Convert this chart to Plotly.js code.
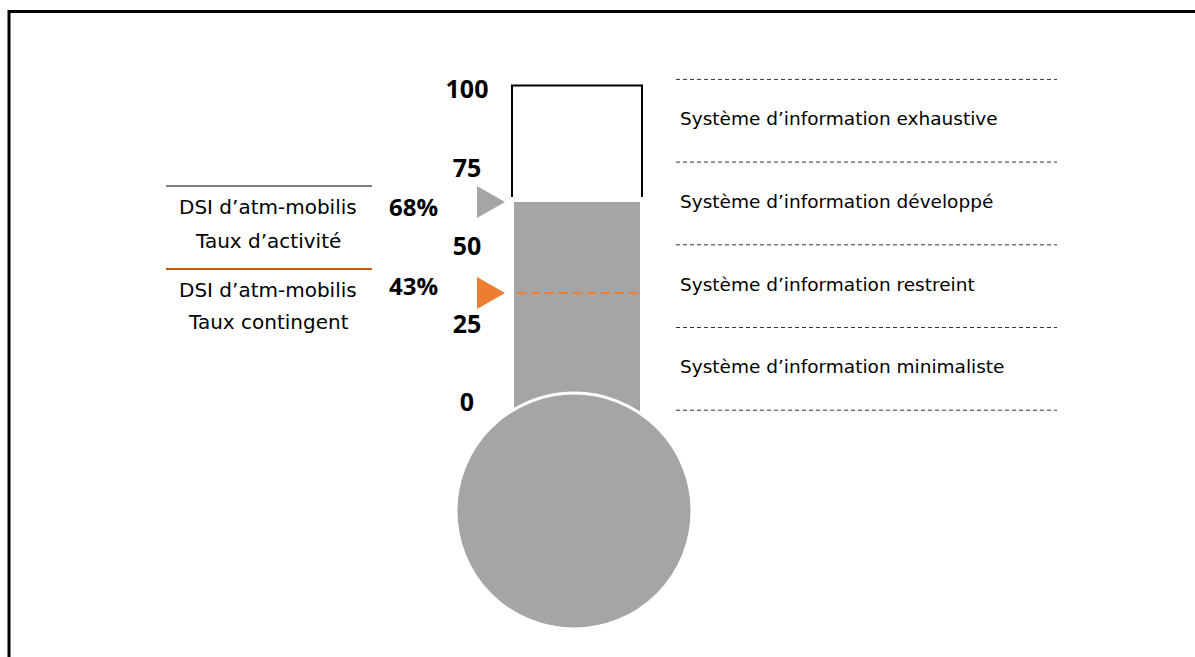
<!DOCTYPE html>
<html>
<head>
<meta charset="utf-8">
<script src="https://cdn.plot.ly/plotly-3.0.1.min.js"></script>
<style>
  html, body { margin: 0; padding: 0; background: #ffffff; }
  #chart { width: 1195px; height: 657px; }
</style>
</head>
<body>
<div id="chart"></div>
<script>
// Indicator values (percent)
const indicatorNames = ['Taux d’activité', 'Taux contingent'];
const indicatorValues = [68, 43];
const indicatorPrefix = 'DSI d’atm-mobilis';

// Thermometer scale
const scaleTicks = [0, 25, 50, 75, 100];
const scaleTickLabels = ['0', '25', '50', '75', '100'];
const scaleMax = 100;

// Maturity bands (bottom to top)
const bandBounds = [0, 25, 50, 75, 100];
const bandLabels = [
  'Système d’information minimaliste',
  'Système d’information restreint',
  'Système d’information développé',
  'Système d’information exhaustive'
];

// ---- layout helpers ----
const W = 1195, H = 657;
const py = p => 1 - p / H;                       // pixel row -> paper fraction
const axisRange = (pxZero, pxPerUnit) => [(pxZero - H) / pxPerUnit, pxZero / pxPerUnit];

const GRAY = '#A5A5A5';
const ORANGE = '#ED7D31';
const ORANGE_DARK = '#C55A11';
const TXT_FONT = '"DejaVu Sans", "Noto Sans", sans-serif';
const NUM_FONT = '"Open Sans", "Noto Sans", sans-serif';

const tubeLeft = 514, tubeRight = 640;
const tubeCenter = (tubeLeft + tubeRight) / 2;
const valPx = 3.64;                 // pixels per percent on the tube scale
const gapUnits = 1.4;               // space between fill and empty-tube outline

const activite = indicatorValues[0];
const contingent = indicatorValues[1];

const traces = [];

// Filled mercury column
traces.push({
  type: 'bar', x: [tubeCenter], y: [activite], width: [tubeRight - tubeLeft],
  marker: { color: GRAY, line: { width: 0 } },
  xaxis: 'x', yaxis: 'y', hoverinfo: 'skip', showlegend: false
});

// Empty part of the tube (open at the bottom)
traces.push({
  type: 'scatter', mode: 'lines',
  x: [tubeLeft - 2, tubeLeft - 2, tubeRight + 2, tubeRight + 2],
  y: [activite + gapUnits, scaleMax, scaleMax, activite + gapUnits],
  line: { color: '#000000', width: 2 },
  xaxis: 'x', yaxis: 'y', hoverinfo: 'skip', showlegend: false
});

// Contingent level across the tube
traces.push({
  type: 'scatter', mode: 'lines',
  x: [tubeLeft + 3, tubeRight + 2], y: [contingent, contingent],
  line: { color: ORANGE, width: 2, dash: '9px,5px' },
  xaxis: 'x', yaxis: 'y', hoverinfo: 'skip', showlegend: false
});

// Pointer triangles
const pointerColors = [GRAY, ORANGE];
const halfH = 16 / valPx;
indicatorValues.forEach((v, i) => {
  traces.push({
    type: 'scatter', mode: 'lines',
    x: [477, 477, 505, 477], y: [v + halfH, v - halfH, v, v + halfH],
    fill: 'toself', fillcolor: pointerColors[i],
    line: { width: 0, color: pointerColors[i] },
    xaxis: 'x', yaxis: 'y', hoverinfo: 'skip', showlegend: false
  });
});

// Scale numbers
traces.push({
  type: 'scatter', mode: 'text',
  x: scaleTicks.map(() => 467), y: scaleTicks, text: scaleTickLabels,
  textposition: 'middle center',
  textfont: { family: NUM_FONT, size: 25, color: '#000000', weight: 'bold' },
  xaxis: 'x', yaxis: 'y2', hoverinfo: 'skip', showlegend: false, cliponaxis: false
});

// Band separators
const sepX = [], sepY = [];
bandBounds.forEach(b => { sepX.push(676, 1057, null); sepY.push(b, b, null); });
traces.push({
  type: 'scatter', mode: 'lines', x: sepX, y: sepY,
  line: { color: '#333333', width: 1, dash: '4px,3px' },
  xaxis: 'x', yaxis: 'y3', hoverinfo: 'skip', showlegend: false
});

// Band names
const bandMid = bandLabels.map((_, i) => (bandBounds[i] + bandBounds[i + 1]) / 2);
traces.push({
  type: 'scatter', mode: 'text',
  x: bandLabels.map(() => 680), y: bandMid, text: bandLabels,
  textposition: 'middle right',
  textfont: { family: TXT_FONT, size: 18.5, color: '#000000' },
  xaxis: 'x', yaxis: 'y3', hoverinfo: 'skip', showlegend: false, cliponaxis: false
});

// Side captions
const capRows = [[207, 241], [290, 322]];
const pctRows = [207, 285];
const annotations = [];
indicatorNames.forEach((name, i) => {
  annotations.push({
    xref: 'x', yref: 'paper', x: 268, y: py(capRows[i][0]), text: indicatorPrefix,
    showarrow: false, xanchor: 'center', yanchor: 'middle',
    font: { family: TXT_FONT, size: 20, color: '#000000' }
  });
  annotations.push({
    xref: 'x', yref: 'paper', x: 268, y: py(capRows[i][1]), text: name,
    showarrow: false, xanchor: 'center', yanchor: 'middle',
    font: { family: TXT_FONT, size: 20, color: '#000000' }
  });
  annotations.push({
    xref: 'x', yref: 'paper', x: 413, y: py(pctRows[i]), text: indicatorValues[i] + '%',
    showarrow: false, xanchor: 'center', yanchor: 'middle',
    font: { family: NUM_FONT, size: 24, color: '#000000', weight: 'bold' }
  });
});

const shapes = [
  // bulb
  { type: 'circle', xref: 'x', yref: 'paper', x0: 456, x1: 692, y0: py(629), y1: py(393),
    fillcolor: GRAY, line: { color: '#ffffff', width: 3 }, layer: 'above' },
  // caption rules
  { type: 'line', xref: 'x', yref: 'paper', x0: 166, x1: 372, y0: py(186), y1: py(186),
    line: { color: '#7F7F7F', width: 2 } },
  { type: 'line', xref: 'x', yref: 'paper', x0: 166, x1: 372, y0: py(269), y1: py(269),
    line: { color: ORANGE_DARK, width: 2 } },
  // frame
  { type: 'rect', xref: 'paper', yref: 'paper', x0: 9 / W, x1: 1.05, y0: -0.05, y1: py(11.5),
    line: { color: '#000000', width: 3 }, fillcolor: 'rgba(0,0,0,0)' }
];

const hidden = { visible: false, fixedrange: true };
const layout = {
  width: W, height: H,
  margin: { l: 0, r: 0, t: 0, b: 0, pad: 0 },
  paper_bgcolor: '#ffffff', plot_bgcolor: '#ffffff',
  showlegend: false,
  xaxis: Object.assign({ range: [0, W] }, hidden),
  yaxis: Object.assign({ range: axisRange(202 + activite * valPx, valPx) }, hidden),
  yaxis2: Object.assign({ range: axisRange(405, 3.13), overlaying: 'y' }, hidden),
  yaxis3: Object.assign({ range: axisRange(410.2, 3.308), overlaying: 'y' }, hidden),
  shapes: shapes,
  annotations: annotations
};

Plotly.newPlot('chart', traces, layout, { displayModeBar: false, staticPlot: true });
</script>
</body>
</html>
